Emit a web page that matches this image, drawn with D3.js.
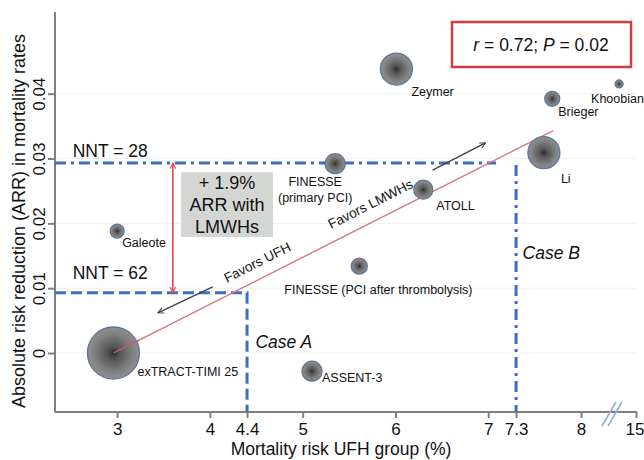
<!DOCTYPE html>
<html>
<head>
<meta charset="utf-8">
<script src="https://cdn.jsdelivr.net/npm/d3@7/dist/d3.min.js"></script>
<style>
  html, body { margin: 0; padding: 0; background: #fff; }
  svg { display: block; font-family: "Liberation Sans", Arial, sans-serif; }
</style>
</head>
<body>
<div id="chart"></div>
<script>
// Trials: UFH-group mortality (%) vs. absolute risk reduction with LMWHs
const studies = ["exTRACT-TIMI 25", "ASSENT-3", "Galeote", "FINESSE\n(primary PCI)", "ATOLL",
                 "FINESSE (PCI after thrombolysis)", "Zeymer", "Li", "Brieger", "Khoobian"];
const mortalityUFH = [2.96, 5.10, 3.00, 5.35, 6.30, 5.61, 6.01, 7.60, 7.69, 10.3];
const arr = [0.0000, -0.0028, 0.0188, 0.0292, 0.0252, 0.0134, 0.0438, 0.0309, 0.0392, 0.0415];
const weight = [676, 100, 49, 100, 90, 64, 256, 256, 56, 16];

// Meta-regression line end points
const fitX = [2.96, 7.70];
const fitY = [0.0000, 0.0343];

// Thresholds
const nntHigh = { label: "NNT = 28", arr: 0.0293, mortality: 7.3 };
const nntLow = { label: "NNT = 62", arr: 0.0093, mortality: 4.4 };

const xTicks = [3, 4, 4.4, 5, 6, 7, 7.3, 8, 15];
const yTicks = [0, 0.01, 0.02, 0.03, 0.04];

const W = 644, H = 460;
const svg = d3.select("#chart").append("svg").attr("width", W).attr("height", H);

// Broken x axis: linear up to 8, compressed after the break
const x = d3.scaleLinear().domain([2.33, 8, 8.33, 15]).range([55, 581, 612, 636]);
const y = d3.scaleLinear().domain([-0.0091, 0.0526]).range([412, 12]);

const defs = svg.append("defs");
const grad = defs.append("radialGradient").attr("id", "bubble");
grad.append("stop").attr("offset", "0%").attr("stop-color", "#2c2c2c");
grad.append("stop").attr("offset", "25%").attr("stop-color", "#555");
grad.append("stop").attr("offset", "70%").attr("stop-color", "#7e7e7e");
grad.append("stop").attr("offset", "100%").attr("stop-color", "#909090");

function arrowMarker(id, color, orient) {
  defs.append("marker").attr("id", id)
    .attr("viewBox", "0 0 10 10").attr("refX", 9).attr("refY", 5)
    .attr("markerWidth", 7).attr("markerHeight", 7)
    .attr("markerUnits", "userSpaceOnUse")
    .attr("orient", orient)
    .append("path").attr("d", "M1,1 L9,5 L1,9")
    .attr("fill", "none").attr("stroke", color).attr("stroke-width", 1.6);
}
arrowMarker("grayArrow", "#444", "auto");
arrowMarker("redArrow", "#e8454a", "auto-start-reverse");

// Faint horizontal grid
svg.append("g").selectAll("line").data(yTicks).join("line")
  .attr("x1", x.range()[0]).attr("x2", 636)
  .attr("y1", d => y(d)).attr("y2", d => y(d))
  .attr("stroke", "#eef1f1").attr("stroke-width", 1);

// Axes
const axisColor = "#7f7f7f";
const xAxis = svg.append("g").attr("transform", `translate(0,${y.range()[0]})`)
  .call(d3.axisBottom(x).tickValues(xTicks).tickSize(6).tickPadding(4).tickFormat(d3.format("")));
xAxis.select(".domain").attr("d", `M${x.range()[0]},0H637`);
const yAxis = svg.append("g").attr("transform", `translate(${x.range()[0]},0)`)
  .call(d3.axisLeft(y).tickValues(yTicks).tickSize(7).tickPadding(4)
    .tickFormat(d => d === 0 ? "0" : d3.format(".2f")(d)));
yAxis.select(".domain").attr("d", `M0,${y.range()[1]}V${y.range()[0]}`);
[xAxis, yAxis].forEach(g => {
  g.select(".domain").attr("stroke", axisColor).attr("stroke-width", 2);
  g.selectAll(".tick line").attr("stroke", axisColor).attr("stroke-width", 2);
  g.selectAll(".tick text").attr("fill", "#111").style("font-size", "17px")
    .style("font-family", "'Liberation Sans', Arial, sans-serif");
});
xAxis.selectAll(".tick text").attr("dy", "0.75em");
xAxis.selectAll(".tick text").filter(d => d === 15).attr("text-anchor", "end").attr("x", 8);
// Rotated y tick labels, reading bottom to top
yAxis.selectAll(".tick text")
  .attr("transform", "translate(-10,0) rotate(-90)")
  .attr("x", 0).attr("y", 0).attr("dy", "0")
  .attr("text-anchor", "middle");

// Axis break marks
const breakX = x(8.33);
svg.append("g").selectAll("line").data([-3, 3]).join("line")
  .attr("x1", d => breakX + d - 7).attr("y1", y.range()[0] + 14)
  .attr("x2", d => breakX + d + 7).attr("y2", y.range()[0] - 10)
  .attr("stroke", "#8fb2da").attr("stroke-width", 1.6);

// Axis titles
svg.append("text").attr("x", 341).attr("y", 455).attr("text-anchor", "middle")
  .style("font-size", "17.5px").attr("fill", "#111").text("Mortality risk UFH group (%)");
svg.append("text").attr("transform", "translate(25,221) rotate(-90)").attr("text-anchor", "middle")
  .style("font-size", "18px").attr("fill", "#111")
  .text("Absolute risk reduction (ARR) in mortality rates");

// NNT threshold lines
const blue = "#3b6fc6";
svg.append("path")
  .attr("d", `M${x.range()[0]},${y(nntHigh.arr)}H${x(nntHigh.mortality) - 20}M${x(nntHigh.mortality)},${y(nntHigh.arr) + 2}V${y.range()[0]}`)
  .attr("fill", "none").attr("stroke", blue).attr("stroke-width", 3)
  .attr("stroke-dasharray", "11,5,3,5");
svg.append("path")
  .attr("d", `M${x.range()[0]},${y(nntLow.arr)}H${x(nntLow.mortality)}V${y.range()[0]}`)
  .attr("fill", "none").attr("stroke", blue).attr("stroke-width", 3)
  .attr("stroke-dasharray", "11,5");

svg.append("text").attr("x", x(2.52)).attr("y", y(nntHigh.arr) - 6)
  .style("font-size", "17.5px").attr("fill", "#111").text(nntHigh.label);
svg.append("text").attr("x", x(2.52)).attr("y", y(nntLow.arr) - 14)
  .style("font-size", "17.5px").attr("fill", "#111").text(nntLow.label);

svg.append("text").attr("x", x(4.49)).attr("y", y(0.0017)).attr("dy", "0.35em")
  .style("font-size", "17.5px").style("font-style", "italic").attr("fill", "#111").text("Case A");
svg.append("text").attr("x", x(7.37)).attr("y", y(0.0154)).attr("dy", "0.35em")
  .style("font-size", "17.5px").style("font-style", "italic").attr("fill", "#111").text("Case B");

// Difference arrow and callout
svg.append("line").attr("x1", x(3.60)).attr("x2", x(3.60))
  .attr("y1", y(nntHigh.arr)).attr("y2", y(nntLow.arr))
  .attr("stroke", "#e8454a").attr("stroke-width", 1.6)
  .attr("marker-start", "url(#redArrow)").attr("marker-end", "url(#redArrow)");
const bx0 = x(3.69), bx1 = x(4.68), by0 = y(0.0279), by1 = y(0.0179);
svg.append("rect").attr("x", bx0).attr("y", by0).attr("width", bx1 - bx0).attr("height", by1 - by0)
  .attr("fill", "#d4d6d3");
["+ 1.9%", "ARR with", "LMWHs"].forEach((t, i) => {
  svg.append("text").attr("x", (bx0 + bx1) / 2).attr("y", by0 + 11 + i * 22).attr("dy", "0.35em")
    .attr("text-anchor", "middle").style("font-size", "18px").attr("fill", "#111").text(t);
});

// Regression line
svg.append("line")
  .attr("x1", x(fitX[0])).attr("y1", y(fitY[0])).attr("x2", x(fitX[1])).attr("y2", y(fitY[1]))
  .attr("stroke", "#d9757c").attr("stroke-width", 1.4);
const angle = Math.atan2(y(fitY[1]) - y(fitY[0]), x(fitX[1]) - x(fitX[0])) * 180 / Math.PI;

// Direction arrows and labels
svg.append("line").attr("x1", x(4.03)).attr("y1", y(0.0102)).attr("x2", x(3.44)).attr("y2", y(0.0062))
  .attr("stroke", "#444").attr("stroke-width", 1.5).attr("marker-end", "url(#grayArrow)");
svg.append("line").attr("x1", x(6.40)).attr("y1", y(0.0282)).attr("x2", x(6.97)).attr("y2", y(0.0324))
  .attr("stroke", "#444").attr("stroke-width", 1.5).attr("marker-end", "url(#grayArrow)");
[["Favors UFH", 4.51, 0.0140], ["Favors LMWHs", 5.73, 0.0230]].forEach(([t, mx, my]) => {
  svg.append("text").attr("transform", `translate(${x(mx)},${y(my)}) rotate(${angle})`)
    .attr("text-anchor", "middle").attr("dy", "0.35em")
    .style("font-size", "13.5px").attr("fill", "#111").text(t);
});

// Bubbles
const r = d3.scaleSqrt().domain([0, d3.max(weight)]).range([0, 26]);
const rows = studies.map((s, i) => ({ s, mx: mortalityUFH[i], a: arr[i], w: weight[i] }));
svg.append("g").selectAll("circle").data(rows).join("circle")
  .attr("cx", d => x(d.mx)).attr("cy", d => y(d.a)).attr("r", d => r(d.w))
  .attr("fill", "url(#bubble)").attr("stroke", "#5f7599").attr("stroke-width", 1.3);

// Start of the fit line drawn over the big bubble
svg.append("line")
  .attr("x1", x(fitX[0])).attr("y1", y(fitY[0]))
  .attr("x2", x(fitX[0]) + r(weight[0])).attr("y2", y(fitY[0]) + r(weight[0]) * Math.tan(angle * Math.PI / 180))
  .attr("stroke", "#c0606a").attr("stroke-width", 1.2);

// Study labels: offsets (px) from bubble centre
const labelOffset = {
  "exTRACT-TIMI 25": [24, 19, "start"],
  "ASSENT-3": [10, 6, "start"],
  "Galeote": [5, 12, "start"],
  "FINESSE\n(primary PCI)": [-20, 18, "middle"],
  "ATOLL": [13, 16, "start"],
  "FINESSE (PCI after thrombolysis)": [-75, 23, "start"],
  "Zeymer": [15, 23, "start"],
  "Li": [17, 26, "start"],
  "Brieger": [6, 13, "start"],
  "Khoobian": [-28, 15, "start"]
};
rows.forEach(d => {
  const [dx, dy, anchor] = labelOffset[d.s];
  d.s.split("\n").forEach((line, k) => {
    svg.append("text").attr("x", x(d.mx) + dx).attr("y", y(d.a) + dy + k * 16).attr("dy", "0.35em")
      .attr("text-anchor", anchor).style("font-size", "12.5px").attr("fill", "#111").text(line);
  });
});

// Correlation box
svg.append("rect").attr("x", 452).attr("y", 22).attr("width", 179).attr("height", 45)
  .attr("fill", "#fff").attr("stroke", "#d33a44").attr("stroke-width", 2.5);
const stat = svg.append("text").attr("x", 541).attr("y", 45).attr("dy", "0.35em")
  .attr("text-anchor", "middle").style("font-size", "17.5px").attr("fill", "#111");
stat.append("tspan").style("font-style", "italic").text("r");
stat.append("tspan").text(" = 0.72; ");
stat.append("tspan").style("font-style", "italic").text("P");
stat.append("tspan").text(" = 0.02");
</script>
</body>
</html>
